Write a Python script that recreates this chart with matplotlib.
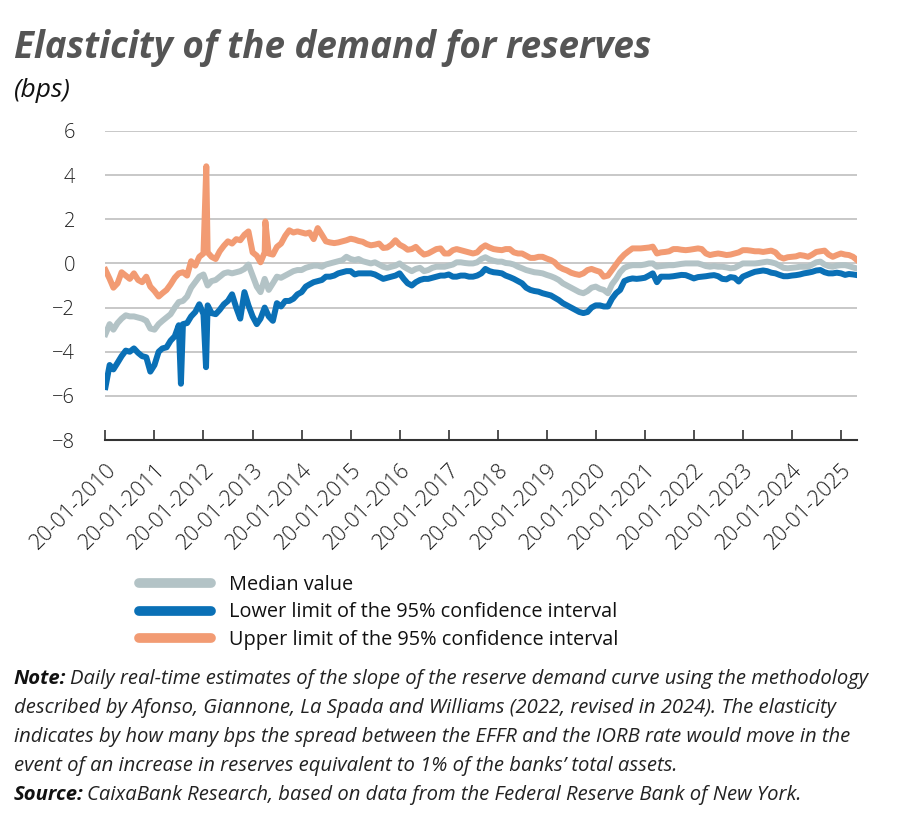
import matplotlib
matplotlib.use("Agg")
import matplotlib.pyplot as plt
import pandas as pd
from matplotlib.lines import Line2D

# ---------------- data (monthly readings, bps) ----------------
start_date = "2010-01-20"
n_months = 185

median_vals = [
    -3.2, -2.75, -3.0, -2.7, -2.5, -2.35, -2.4, -2.4, -2.45, -2.5, -2.6, -2.95,
    -3.0, -2.75, -2.6, -2.45, -2.3, -2.0, -1.75, -1.7, -1.5, -1.1, -0.85, -0.6,
    -0.5, -1.0, -0.8, -0.75, -0.6, -0.45, -0.4, -0.45, -0.4, -0.35, -0.25, -0.05,
    -0.55, -1.05, -1.3, -0.7, -1.2, -0.9, -0.6, -0.65, -0.55, -0.45, -0.35, -0.3,
    -0.3, -0.2, -0.15, -0.1, -0.1, -0.15, -0.05, 0.0, 0.05, 0.1, 0.15, 0.3,
    0.2, 0.15, 0.2, 0.1, 0.05, 0.0, 0.05, -0.05, -0.15, -0.2, -0.15, -0.1,
    0.0, -0.15, -0.25, -0.35, -0.25, -0.2, -0.35, -0.3, -0.2, -0.15, -0.15, -0.15,
    -0.1, -0.05, 0.05, 0.05, 0.02, 0.0, 0.0, 0.05, 0.2, 0.28, 0.18, 0.12,
    0.08, 0.08, 0.02, 0.0, -0.05, -0.15, -0.22, -0.3, -0.35, -0.4, -0.42, -0.45,
    -0.52, -0.58, -0.65, -0.75, -0.9, -1.0, -1.1, -1.2, -1.3, -1.35, -1.25, -1.1,
    -1.05, -1.15, -1.2, -1.35, -0.95, -0.7, -0.4, -0.2, -0.12, -0.08, -0.08, -0.08,
    -0.05, 0.0, 0.0, -0.15, -0.12, -0.1, -0.08, -0.08, -0.05, -0.02, 0.0, 0.0,
    0.0, 0.0, -0.05, -0.12, -0.15, -0.12, -0.15, -0.15, -0.18, -0.22, -0.2, -0.1,
    0.0, 0.0, 0.0, 0.0, 0.02, 0.05, 0.08, 0.05, 0.0, -0.1, -0.2, -0.22,
    -0.2, -0.18, -0.15, -0.15, -0.15, -0.05, 0.05, 0.08, -0.05, -0.12, -0.15, -0.1,
    -0.08, -0.08, -0.12, -0.18, -0.23,
]

lower_vals = [
    -5.6, -4.6, -4.8, -4.5, -4.2, -3.95, -4.0, -3.85, -4.05, -4.2, -4.25, -4.9,
    -4.6, -4.0, -3.85, -3.8, -3.5, -3.3, -2.8, -2.75, -2.7, -2.4, -2.2, -1.85,
    -2.3, -1.9, -2.25, -2.3, -2.1, -1.85, -1.7, -1.4, -2.0, -2.5, -1.3, -1.9,
    -2.4, -2.75, -2.5, -2.0, -2.4, -2.6, -1.8, -1.95, -1.7, -1.7, -1.6, -1.4,
    -1.3, -1.05, -0.95, -0.85, -0.8, -0.75, -0.6, -0.6, -0.55, -0.45, -0.4, -0.35,
    -0.35, -0.5, -0.45, -0.45, -0.45, -0.45, -0.5, -0.6, -0.7, -0.65, -0.6, -0.55,
    -0.45, -0.7, -0.9, -1.0, -0.85, -0.75, -0.7, -0.7, -0.65, -0.6, -0.55, -0.55,
    -0.5, -0.6, -0.6, -0.55, -0.55, -0.6, -0.6, -0.55, -0.45, -0.25, -0.35, -0.4,
    -0.42, -0.45, -0.55, -0.62, -0.7, -0.8, -0.9, -1.1, -1.2, -1.25, -1.28, -1.35,
    -1.4, -1.45, -1.55, -1.66, -1.8, -1.9, -2.0, -2.1, -2.2, -2.25, -2.2, -2.0,
    -1.9, -1.9, -1.95, -1.95, -1.6, -1.35, -1.2, -0.8, -0.72, -0.68, -0.7, -0.68,
    -0.65, -0.55, -0.45, -0.85, -0.6, -0.6, -0.6, -0.58, -0.55, -0.52, -0.53, -0.6,
    -0.68, -0.62, -0.6, -0.58, -0.55, -0.53, -0.58, -0.7, -0.72, -0.62, -0.65, -0.82,
    -0.6, -0.52, -0.45, -0.38, -0.35, -0.32, -0.35, -0.42, -0.45, -0.52, -0.58, -0.58,
    -0.55, -0.53, -0.5, -0.45, -0.42, -0.38, -0.32, -0.3, -0.4, -0.45, -0.45, -0.42,
    -0.45, -0.52, -0.48, -0.5, -0.53,
]

upper_vals = [
    -0.3, -0.7, -1.1, -0.9, -0.4, -0.55, -0.7, -0.45, -0.75, -0.85, -0.6, -1.05,
    -1.25, -1.5, -1.35, -1.2, -0.95, -0.65, -0.45, -0.4, -0.55, 0.1, -0.1, 0.3,
    0.45, 0.5, 0.3, 0.2, 0.55, 0.8, 1.0, 0.9, 1.1, 1.05, 1.3, 1.45,
    0.5, 0.35, 0.05, 0.5, 0.45, 0.4, 0.75, 0.9, 1.25, 1.5, 1.4, 1.45,
    1.4, 1.35, 1.4, 1.1, 1.6, 1.3, 1.0, 0.95, 0.92, 0.95, 1.0, 1.05,
    1.12, 1.08, 1.02, 0.98, 0.88, 0.82, 0.85, 0.9, 0.7, 0.72, 0.85, 1.05,
    0.85, 0.75, 0.62, 0.65, 0.75, 0.55, 0.4, 0.45, 0.55, 0.65, 0.68, 0.45,
    0.45, 0.6, 0.65, 0.6, 0.55, 0.5, 0.45, 0.5, 0.7, 0.82, 0.72, 0.65,
    0.62, 0.6, 0.65, 0.65, 0.5, 0.45, 0.45, 0.35, 0.25, 0.25, 0.3, 0.3,
    0.22, 0.15, 0.05, -0.15, -0.25, -0.32, -0.42, -0.48, -0.52, -0.45, -0.3, -0.25,
    -0.32, -0.38, -0.6, -0.55, -0.3, -0.05, 0.2, 0.4, 0.55, 0.68, 0.68, 0.68,
    0.7, 0.72, 0.76, 0.45, 0.5, 0.52, 0.55, 0.65, 0.65, 0.62, 0.6, 0.62,
    0.65, 0.68, 0.65, 0.45, 0.38, 0.42, 0.45, 0.42, 0.38, 0.4, 0.45, 0.5,
    0.6, 0.6, 0.58, 0.55, 0.55, 0.52, 0.55, 0.58, 0.5, 0.3, 0.22, 0.28,
    0.3, 0.32, 0.38, 0.35, 0.3, 0.4, 0.52, 0.55, 0.58, 0.4, 0.3, 0.38,
    0.45, 0.4, 0.38, 0.3, 0.15,
]

# short-lived spikes (daily estimates)
lower_spike_dates = ["2011-08-05", "2012-02-08"]
lower_spike_vals = [-5.45, -4.7]
upper_spike_dates = ["2012-02-10", "2013-04-25"]
upper_spike_vals = [4.4, 1.9]

x_tick_labels = ["20-01-%d" % y for y in range(2010, 2026)]
y_ticks = [6, 4, 2, 0, -2, -4, -6, -8]

title = "Elasticity of the demand for reserves"
subtitle = "(bps)"
legend_labels = ["Median value",
                 "Lower limit of the 95% confidence interval",
                 "Upper limit of the 95% confidence interval"]

# ---------------- build series ----------------
dates = pd.date_range(start=start_date, periods=n_months, freq=pd.DateOffset(months=1))
median = pd.Series(median_vals, index=dates)
lower = pd.concat([pd.Series(lower_vals, index=dates),
                   pd.Series(lower_spike_vals, index=pd.to_datetime(lower_spike_dates))]).sort_index()
upper = pd.concat([pd.Series(upper_vals, index=dates),
                   pd.Series(upper_spike_vals, index=pd.to_datetime(upper_spike_dates))]).sort_index()

# ---------------- style ----------------
C_MED = "#B3C3C6"
C_LOW = "#0A70B6"
C_UP = "#F29B73"
FONT = "Open Sans"
plt.rcParams["font.family"] = [FONT, "DejaVu Sans"]

fig = plt.figure(figsize=(9, 8.17), dpi=100)
ax = fig.add_axes([0.1172, 0.4614, 0.952 - 0.1172, 0.8397 - 0.4614])

lw = 4.3
ax.plot(median.index, median.values, color=C_MED, lw=lw, solid_joinstyle="round", zorder=3)
ax.plot(upper.index, upper.values, color=C_UP, lw=lw, solid_joinstyle="round", zorder=4)
ax.plot(lower.index, lower.values, color=C_LOW, lw=lw, solid_joinstyle="round", zorder=5)

ax.set_ylim(-8, 6)
ax.set_xlim(pd.Timestamp("2010-01-20"), pd.Timestamp("2025-05-18"))
ax.set_yticks(y_ticks)
for yv in y_ticks[:-1]:
    ax.axhline(yv, color="#c4c4c4", lw=1.3, zorder=1)

tick_dates = pd.to_datetime(["%d-01-20" % y for y in range(2010, 2026)])
ax.set_xticks(tick_dates)
ax.set_xticklabels(x_tick_labels, rotation=45, ha="right", rotation_mode="anchor")

for s in ["top", "right", "left"]:
    ax.spines[s].set_visible(False)
ax.spines["bottom"].set_color("#333333")
ax.spines["bottom"].set_linewidth(1.5)
ax.tick_params(axis="x", direction="in", length=7, width=1.2, color="#333333",
               labelsize=15.5, pad=14, labelcolor="#222222")
ax.tick_params(axis="y", length=0, pad=22, labelsize=14.5, labelcolor="#222222")
for lab in ax.get_xticklabels() + ax.get_yticklabels():
    lab.set_fontweight("light")

# ---------------- titles ----------------
fig.text(0.015, 0.929, title, fontsize=26.5, fontweight="bold", style="italic",
         color="#555555", ha="left", va="baseline")
fig.text(0.015, 0.881, subtitle, fontsize=19, style="italic", color="#111111",
         ha="left", va="baseline")

# ---------------- legend ----------------
handles = [Line2D([0], [0], color=c, lw=7, solid_capstyle="round") for c in (C_MED, C_LOW, C_UP)]
leg = fig.legend(handles, legend_labels, loc="upper left", bbox_to_anchor=(0.146, 0.306),
                 frameon=False, fontsize=14.3, handlelength=3.6, handletextpad=0.9,
                 labelspacing=0.38, borderaxespad=0)
for t in leg.get_texts():
    t.set_color("#111111")

# ---------------- note / source ----------------
fig.canvas.draw()
renderer = fig.canvas.get_renderer()

def rich_line(x, y, bold, rest, size=14.6):
    xpos = x
    if bold:
        t = fig.text(xpos, y, bold, fontsize=size, fontweight="bold", style="italic",
                     color="#111111", ha="left", va="baseline")
        bb = t.get_window_extent(renderer=renderer)
        xpos = (bb.x1 + 4) / fig.bbox.width
    fig.text(xpos, y, rest, fontsize=size, style="italic", color="#222222",
             ha="left", va="baseline")

note_lines = [
    ("Note:", "Daily real-time estimates of the slope of the reserve demand curve using the methodology"),
    ("", "described by Afonso, Giannone, La Spada and Williams (2022, revised in 2024). The elasticity"),
    ("", "indicates by how many bps the spread between the EFFR and the IORB rate would move in the"),
    ("", "event of an increase in reserves equivalent to 1% of the banks\u2019 total assets."),
    ("Source:", "CaixaBank Research, based on data from the Federal Reserve Bank of New York."),
]
y0 = 1 - 684 / 817
dy = 29 / 817
for i, (b, r) in enumerate(note_lines):
    rich_line(0.015, y0 - i * dy, b, r)

fig.savefig("out.png", dpi=100)
